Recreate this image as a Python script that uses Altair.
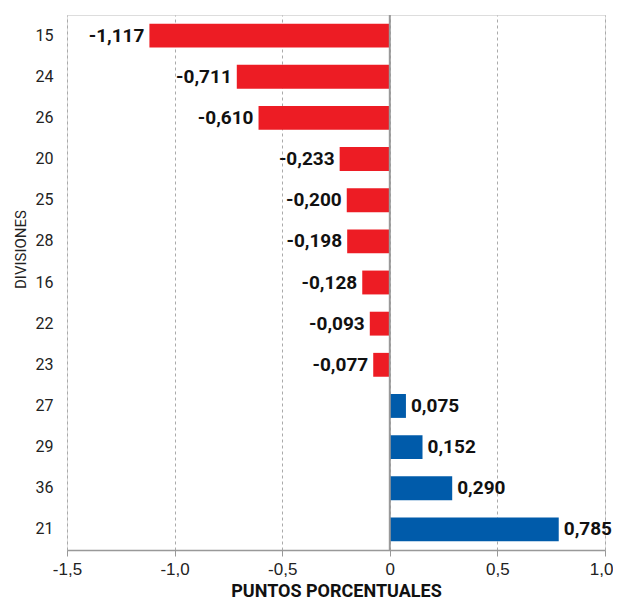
import altair as alt
import pandas as pd

divisiones = ["15", "24", "26", "20", "25", "28", "16", "22", "23", "27", "29", "36", "21"]
valores = [-1.117, -0.711, -0.610, -0.233, -0.200, -0.198, -0.128, -0.093, -0.077, 0.075, 0.152, 0.290, 0.785]

df = pd.DataFrame({"div": divisiones, "val": valores})
df["lbl"] = df["val"].map(lambda v: ("-" if v < 0 else "") + f"{abs(v):.3f}".replace(".", ","))
df["signo"] = ["neg" if v < 0 else "pos" for v in valores]

FONT = "Roboto, sans-serif"
W, H = 538, 535

x = alt.X("val:Q", scale=alt.Scale(domain=[-1.5, 1.0], nice=False, zero=False),
          axis=alt.Axis(values=[-1.5, -1.0, -0.5, 0, 0.5, 1.0],
                        labelExpr="datum.value == 0 ? '0' : (datum.value < 0 ? '-' : '') + replace(format(abs(datum.value), '.1f'), '.', ',')",
                        title="PUNTOS PORCENTUALES", titleFont=FONT, titleFontSize=18,
                        titleFontWeight="bold", titleColor="#111",
                        titleY=46, titleBaseline="alphabetic",
                        labelFont="Liberation Sans, Arial, sans-serif", labelFontSize=17, labelColor="#222",
                        labelPadding=5, labelFlush=False,
                        labelAlign={"condition": {"test": "datum.value == 1", "value": "right"}, "value": "center"},
                        labelOffset={"condition": {"test": "datum.value == 1", "value": 8}, "value": 0},
                        grid=True, gridDash=[3, 3], gridColor="#aaaaaa", gridWidth=1,
                        domainColor="#999999", domainWidth=1.5, tickColor="#999999", tickSize=6))
y = alt.Y("div:N", sort=divisiones,
          scale=alt.Scale(paddingInner=0.42, paddingOuter=0.21),
          axis=alt.Axis(title="DIVISIONES", titleFont=FONT, titleFontSize=15, titleFontWeight="normal",
                        titleColor="#222", titleX=-47, titleY=234, titleBaseline="middle",
                        labelFont=FONT, labelFontSize=16, labelColor="#222", labelPadding=14,
                        ticks=False, domain=False, grid=False))

bars = alt.Chart(df).mark_bar().encode(
    x=x, y=y,
    x2=alt.datum(0),
    color=alt.Color("signo:N", scale=alt.Scale(domain=["neg", "pos"], range=["#ED1C24", "#005BAA"]), legend=None),
)

txt_neg = alt.Chart(df).transform_filter("datum.val < 0").mark_text(
    align="right", baseline="middle", dx=-5, font=FONT, fontSize=19, fontWeight="bold", color="#111"
).encode(x="val:Q", y=alt.Y("div:N", sort=divisiones), text="lbl:N")

txt_pos = alt.Chart(df).transform_filter("datum.val > 0").mark_text(
    align="left", baseline="middle", dx=5, font=FONT, fontSize=19, fontWeight="bold", color="#111"
).encode(x="val:Q", y=alt.Y("div:N", sort=divisiones), text="lbl:N")

zero = alt.Chart(pd.DataFrame({"z": [0]})).mark_rule(color="#999999", strokeWidth=2).encode(x="z:Q")

chart = alt.layer(bars, txt_neg, txt_pos, zero).properties(
    width=W, height=H,
    autosize=alt.AutoSizeParams(type="none"),
    padding={"left": 59, "top": 7, "right": 8, "bottom": 49},
).configure_view(stroke=None).configure(background="white")

chart.save("out.html", embed_options={"renderer": "svg", "actions": False})
